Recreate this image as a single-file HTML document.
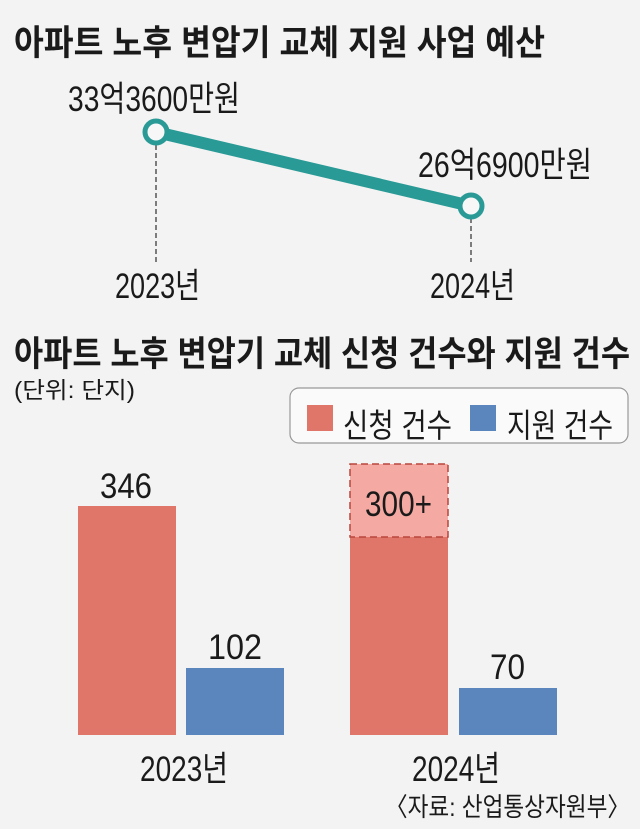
<!DOCTYPE html>
<html><head><meta charset="utf-8"><style>
html,body{margin:0;padding:0;background:#f3f3f3;}
svg{display:block;}
text{font-family:"Liberation Sans","Noto Sans CJK KR",sans-serif;fill:#1a1a1a;}
.b{font-weight:bold;}
</style></head><body>
<svg width="640" height="829" viewBox="0 0 640 829" xmlns="http://www.w3.org/2000/svg">
<rect width="640" height="829" fill="#f3f3f3"/>
<text class="b" x="14" y="55" font-size="35" textLength="531" lengthAdjust="spacingAndGlyphs">아파트 노후 변압기 교체 지원 사업 예산</text>
<line x1="156" y1="145" x2="156" y2="262" stroke="#555" stroke-width="1.5" stroke-dasharray="5,3"/>
<line x1="471" y1="218" x2="471" y2="262" stroke="#555" stroke-width="1.5" stroke-dasharray="5,3"/>
<line x1="156" y1="132" x2="471" y2="206" stroke="#2a9a96" stroke-width="12"/>
<circle cx="156" cy="132" r="11" fill="#f7f7f7" stroke="#2a9a96" stroke-width="5"/>
<circle cx="471" cy="206" r="11" fill="#f7f7f7" stroke="#2a9a96" stroke-width="5"/>
<text x="68" y="111" font-size="35" textLength="172" lengthAdjust="spacingAndGlyphs">33억3600만원</text>
<text x="418" y="177" font-size="35" textLength="174" lengthAdjust="spacingAndGlyphs">26억6900만원</text>
<text x="115" y="298" font-size="35" textLength="85" lengthAdjust="spacingAndGlyphs">2023년</text>
<text x="430" y="298" font-size="35" textLength="85" lengthAdjust="spacingAndGlyphs">2024년</text>
<text class="b" x="14" y="366" font-size="35" textLength="616" lengthAdjust="spacingAndGlyphs">아파트 노후 변압기 교체 신청 건수와 지원 건수</text>
<text x="14" y="398" font-size="23" textLength="121" lengthAdjust="spacingAndGlyphs">(단위: 단지)</text>
<rect x="290" y="388" width="338" height="55" rx="9" fill="#fafafa" stroke="#999" stroke-width="1.2"/>
<rect x="307" y="405" width="26" height="26" fill="#e0756a"/>
<text x="343" y="437" font-size="33" textLength="109" lengthAdjust="spacingAndGlyphs">신청 건수</text>
<rect x="470" y="405" width="26" height="26" fill="#5b86bd"/>
<text x="507" y="437" font-size="33" textLength="106" lengthAdjust="spacingAndGlyphs">지원 건수</text>
<rect x="78" y="506" width="98" height="229" fill="#e0756a"/>
<rect x="186" y="668" width="98" height="67" fill="#5b86bd"/>
<rect x="350" y="537" width="98" height="198" fill="#e0756a"/>
<rect x="350" y="464" width="98" height="73" fill="#f4aaa3" stroke="#b8463c" stroke-width="1.5" stroke-dasharray="7,4"/>
<rect x="459" y="688" width="98" height="47" fill="#5b86bd"/>
<text x="100" y="498" font-size="35" textLength="52" lengthAdjust="spacingAndGlyphs">346</text>
<text x="208" y="659" font-size="35" textLength="54" lengthAdjust="spacingAndGlyphs">102</text>
<text x="365" y="516" font-size="35" textLength="67" lengthAdjust="spacingAndGlyphs">300+</text>
<text x="490" y="679" font-size="35" textLength="35" lengthAdjust="spacingAndGlyphs">70</text>
<text x="140" y="781" font-size="35" textLength="88" lengthAdjust="spacingAndGlyphs">2023년</text>
<text x="412" y="781" font-size="35" textLength="88" lengthAdjust="spacingAndGlyphs">2024년</text>
<text x="385" y="816" font-size="26" textLength="245" lengthAdjust="spacingAndGlyphs">〈자료: 산업통상자원부〉</text>
</svg>
</body></html>
